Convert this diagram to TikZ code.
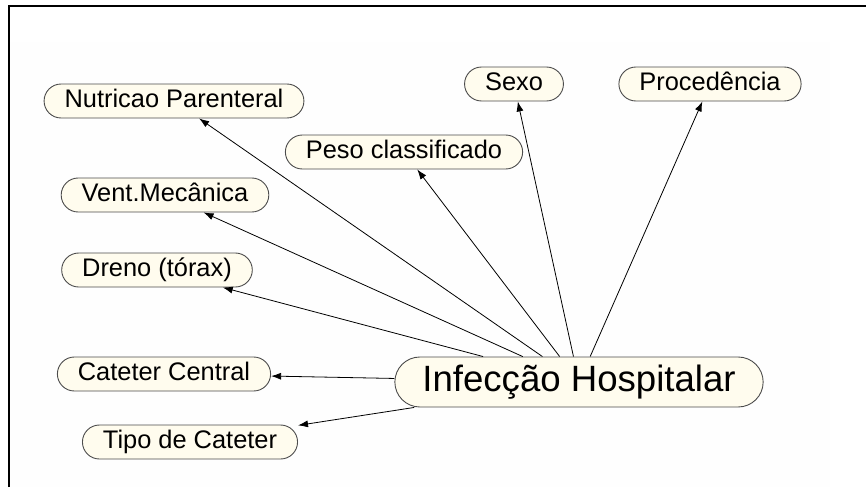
\documentclass[tikz,border=0pt]{standalone}
\usepackage{fontspec}
\setmainfont{Liberation Sans}
\usepackage{xcolor}
\usetikzlibrary{arrows.meta}
\definecolor{cream}{RGB}{255,252,238}

\begin{document}
\begin{tikzpicture}
    [x=1pt, y=-1pt,
     var/.style={rectangle, rounded corners=17pt, draw=black!70, fill=cream,
       line width=0.9pt, minimum height=34pt, inner xsep=20.5pt, inner ysep=0pt,
       font=\fontsize{25.4}{30}\selectfont, text height=18.3pt, text depth=5.1pt},
     root/.style={var, rounded corners=25pt, minimum height=50pt,
       inner xsep=27.5pt, font=\fontsize{36.6}{44}\selectfont,
       text height=26.4pt, text depth=7.3pt},
     link/.style={-{Latex[length=10pt,width=7pt]}, line width=0.8pt}]
    \useasboundingbox (0,0) rectangle (866,487);
    % frame
    \fill[black!0.5] (10,42) rectangle (830,487);
    \draw[line width=1.8pt] (9,487) -- (9,6) -- (866,6);
    \node (IH) at (579,382) [root] {Infecção Hospitalar};
    \node (NP) at (174,101) [var] {Nutricao Parenteral};
    \node (VM) at (165,195) [var] {Vent.Mecânica};
    \node (PC) at (404,152) [var] {Peso classificado};
    \node (SX) at (514,84) [var] {Sexo};
    \node (PR) at (710,84) [var] {Procedência};
    \node (DT) at (157,270) [var] {Dreno (tórax)};
    \node (CC) at (164,374) [var] {Cateter Central};
    \node (TC) at (190,442) [var] {Tipo de Cateter};
    \draw[link] (IH) -- (NP);
    \draw[link] (IH) -- (VM);
    \draw[link] (IH) -- (PC);
    \draw[link] (IH) -- (SX);
    \draw[link] (IH) -- (PR);
    \draw[link] (IH) -- (DT);
    \draw[link] (IH) -- (CC);
    \draw[link] (IH) -- (TC);
\end{tikzpicture}
\end{document}
